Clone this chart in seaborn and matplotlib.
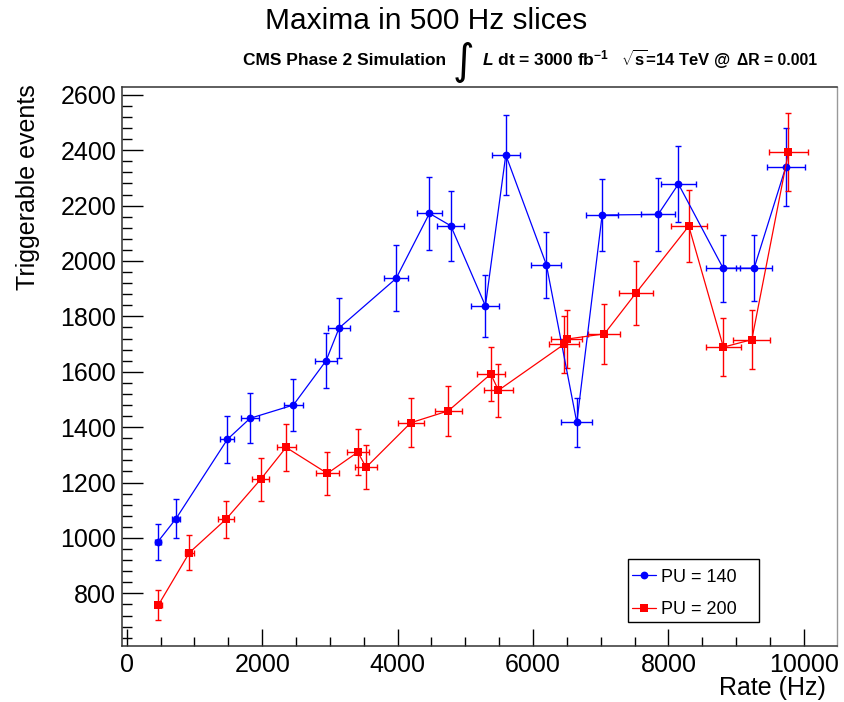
import numpy as np
import pandas as pd
import matplotlib
matplotlib.use("Agg")
import matplotlib.pyplot as plt
import seaborn as sns
from matplotlib.ticker import MultipleLocator
from matplotlib.lines import Line2D
from matplotlib.patches import Rectangle

# ---- data ----
rate_140 = [458, 728, 1486, 1821, 2461, 2944, 3136, 3978, 4470, 4786,
            5297, 5598, 6198, 6647, 7021, 7848, 8148, 8808, 9266, 9734]
events_140 = [986, 1070, 1356, 1432, 1480, 1640, 1758, 1937, 2172, 2127,
              1838, 2383, 1986, 1417, 2166, 2168, 2278, 1974, 1974, 2340]
rate_err_140 = [45, 60, 103, 133, 138, 160, 160, 182, 187, 197,
                207, 207, 222, 231, 241, 256, 261, 256, 266, 281]
events_err_140 = [64, 70, 85, 90, 94, 100, 108, 119, 131, 126,
                  111, 143, 119, 87, 130, 131, 137, 121, 119, 141]

rate_200 = [467, 925, 1467, 1979, 2353, 2963, 3412, 3535, 4195, 4750,
            5377, 5489, 6457, 6499, 7055, 7523, 8301, 8812, 9232, 9773]
events_200 = [758, 947, 1068, 1212, 1327, 1233, 1310, 1255, 1416, 1459,
              1592, 1533, 1699, 1718, 1737, 1885, 2126, 1689, 1716, 2393]
rate_err_200 = [50, 70, 116, 128, 140, 175, 165, 162, 190, 202,
                209, 209, 222, 229, 236, 246, 263, 258, 271, 288]
events_err_200 = [53, 63, 67, 77, 84, 78, 82, 79, 88, 91,
                  99, 96, 103, 106, 108, 115, 129, 104, 106, 142]

series_labels = ["PU = 140", "PU = 200"]
colors = {"PU = 140": "#0000ff", "PU = 200": "#ff0000"}
markers = {"PU = 140": "o", "PU = 200": "s"}
msizes = {"PU = 140": 5.6, "PU = 200": 6.0}

title = "Maxima in 500 Hz slices"
x_label = "Rate (Hz)"
y_label = "Triggerable events"

sns.set_theme(style="white")
plt.rcParams["font.family"] = ["Liberation Sans", "DejaVu Sans"]
plt.rcParams["text.color"] = "black"
plt.rcParams["mathtext.fontset"] = "custom"
plt.rcParams["mathtext.rm"] = "Liberation Sans:bold"
plt.rcParams["mathtext.it"] = "Liberation Sans:bold:italic"
plt.rcParams["mathtext.bf"] = "Liberation Sans:bold"

df = pd.concat([
    pd.DataFrame({"rate": rate_140, "events": events_140,
                  "xerr": rate_err_140, "yerr": events_err_140, "pu": series_labels[0]}),
    pd.DataFrame({"rate": rate_200, "events": events_200,
                  "xerr": rate_err_200, "yerr": events_err_200, "pu": series_labels[1]}),
], ignore_index=True)

fig = plt.figure(figsize=(8.44, 7.02), dpi=100)
ax = fig.add_axes([0.1442, 0.0798, 0.8475, 0.7958])

for lab in series_labels:
    sub = df[df["pu"] == lab]
    ax.errorbar(sub["rate"], sub["events"], xerr=sub["xerr"], yerr=sub["yerr"],
                fmt="none", ecolor=colors[lab], elinewidth=1.0, capsize=2.2,
                capthick=1.0, zorder=2)
    sns.lineplot(data=sub, x="rate", y="events", sort=False, estimator=None,
                 color=colors[lab], marker=markers[lab], markersize=msizes[lab],
                 markeredgewidth=0, linewidth=0.9, ax=ax, legend=False, zorder=3)

ax.set_xlim(-75, 10490)
ax.set_ylim(610, 2627)
ax.set_xlabel("")
ax.set_ylabel("")
ax.xaxis.set_major_locator(MultipleLocator(2000))
ax.xaxis.set_minor_locator(MultipleLocator(500))
ax.yaxis.set_major_locator(MultipleLocator(200))
ax.yaxis.set_minor_locator(MultipleLocator(40))
ax.tick_params(axis="both", which="both", direction="in", colors="black",
               labelcolor="black", labelsize=18, top=False, right=False,
               left=True, bottom=True)
ax.tick_params(axis="y", which="major", length=15, width=1, pad=4)
ax.tick_params(axis="y", which="minor", length=7.5, width=1)
ax.tick_params(axis="x", which="major", length=12.5, width=1, pad=5)
ax.tick_params(axis="x", which="minor", length=6.3, width=1)
for s in ["left", "bottom", "top"]:
    ax.spines[s].set_color("#333333")
    ax.spines[s].set_linewidth(1.1)
ax.spines["right"].set_color("#999999")
ax.spines["right"].set_linewidth(1.0)

# legend: entries without frame, plus a drawn box behind them
box = Rectangle((627.7 / 844, 1 - 621.7 / 702), (759.3 - 627.7) / 844,
                (621.7 - 559.3) / 702, transform=fig.transFigure,
                facecolor="white", edgecolor="black", linewidth=1.0,
                zorder=4, clip_on=False)
ax.add_artist(box)
handles = [Line2D([0], [0], color=colors[l], marker=markers[l], markersize=msizes[l],
                  markeredgewidth=0, linewidth=0.9) for l in series_labels]
leg = ax.legend(handles, series_labels, loc="upper left",
                bbox_to_anchor=(632 / 844, 1 - 568.5 / 702), bbox_transform=fig.transFigure,
                borderaxespad=0, borderpad=0, fontsize=13, handlelength=1.33,
                handletextpad=0.3, labelspacing=0.85, frameon=False)
leg.set_zorder(5)

# titles and axis labels
fig.text(426 / 844, 1 - 29 / 702, title, ha="center", va="baseline", fontsize=21.5)
fig.text(28 / 844, 1 - 84 / 702, y_label, rotation=90, ha="center", va="top", fontsize=18)
fig.text(826 / 844, 1 - 688 / 702, x_label, ha="right", va="center", fontsize=18)

# subtitle
fig.text(243 / 844, 1 - 65 / 702, "CMS Phase 2 Simulation", ha="left", va="baseline",
         fontsize=12.5, fontweight="bold")
fig.text(463 / 844, 1 - 62 / 702, "\u222b", ha="center", va="center", fontsize=30,
         family=["DejaVu Sans"])
fig.text(482 / 844, 1 - 65 / 702, r"$\mathit{L}$ dt = 3000 fb$^{\mathbf{-1}}$",
         ha="left", va="baseline", fontsize=12.5, fontweight="bold")
fig.text(621 / 844, 1 - 65 / 702, r"$\sqrt{\mathbf{s}}$" + "=14 TeV @",
         ha="left", va="baseline", fontsize=12, fontweight="bold")
fig.text(817 / 844, 1 - 65 / 702, "\u0394R = 0.001",
         ha="right", va="baseline", fontsize=11.3, fontweight="bold")

fig.savefig("out.png", dpi=100)
